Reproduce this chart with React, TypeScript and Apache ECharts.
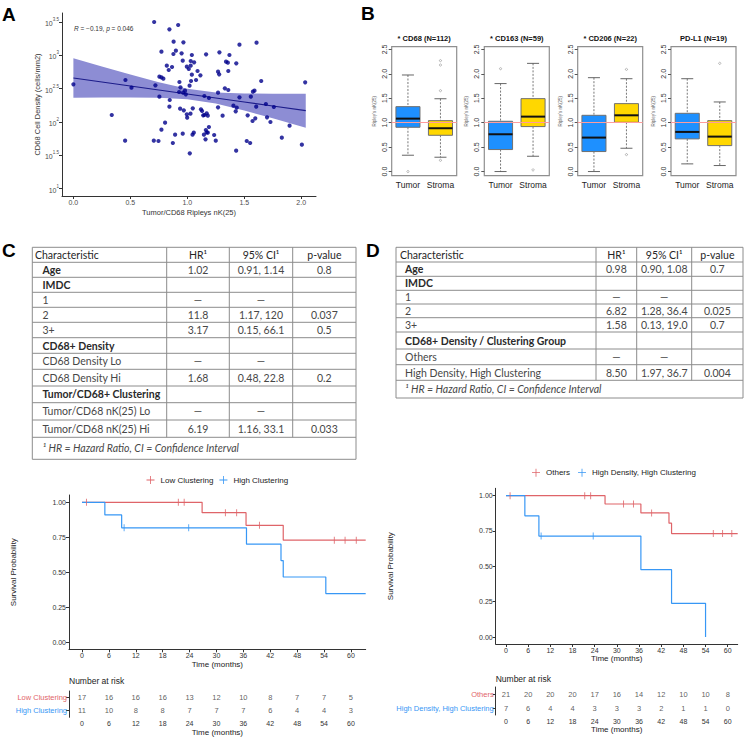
import React, { useEffect, useRef } from "react";
import * as echarts from "echarts";

// ---------- Panel A data ----------
const ripleyX = [0.0,0.457,0.51,0.337,0.454,0.709,0.92,0.843,0.88,0.966,
 0.773,0.90,0.878,0.95,1.04,0.96,1.03,1.06,0.82,0.866,
 0.837,1.03,1.013,0.996,1.09,1.115,1.04,0.755,0.773,0.79,
 1.077,1.033,0.931,0.72,0.94,0.98,0.928,0.963,0.987,1.02,
 0.755,0.846,0.843,0.937,0.969,1.048,1.028,0.996,0.999,0.805,
 0.773,0.893,0.96,0.706,0.747,0.873,1.022,1.046,1.057,1.12,
 1.13,1.14,1.15,1.17,1.18,1.146,1.163,1.17,1.18,1.19,
 1.16,1.236,1.25,1.165,1.15,1.19,1.27,1.27,1.31,1.282,
 1.27,1.28,1.33,1.36,1.34,1.356,1.37,1.36,1.43,1.458,
 1.608,1.458,1.405,1.425,1.434,1.53,1.558,1.576,1.59,1.573,
 1.597,1.605,1.429,1.522,1.552,1.649,1.69,1.70,1.76,1.73,
 1.83,1.898,2.006,2.035];
// log10 of CD68 cell density (cells/mm2)
const densityLog = [2.565,2.63,2.515,2.105,1.72,3.5,3.455,3.39,3.205,3.195,
 3.055,3.07,3.02,3.03,3.005,2.92,2.915,2.895,2.845,2.825,
 2.78,2.845,2.795,2.83,2.765,2.70,2.71,2.68,2.67,2.65,
 2.63,2.615,2.60,2.55,2.52,2.47,2.45,2.44,2.415,2.545,
 2.38,2.33,2.23,2.20,2.175,2.205,2.125,2.115,2.065,1.99,
 1.885,1.81,1.825,1.72,1.715,1.685,1.53,1.81,1.84,2.19,
 2.165,2.10,2.105,2.13,2.095,1.81,1.88,1.845,1.84,1.925,
 1.74,1.805,1.72,3.015,2.39,2.36,2.44,2.22,2.095,3.045,
 2.755,2.715,2.505,2.48,2.905,2.89,3.005,2.765,2.88,3.16,
 3.19,2.37,2.245,2.16,2.215,2.10,2.38,2.455,2.47,2.015,
 2.055,2.23,1.57,1.715,1.685,2.615,2.27,2.07,2.225,2.0,
 1.765,1.945,1.66,2.595];
const fitX = [0, 0.25, 0.5, 0.75, 1.0, 1.25, 1.5, 1.75, 2.04];
const fitY = [2.66, 2.60, 2.54, 2.48, 2.42, 2.36, 2.30, 2.24, 2.17];
const fitLower = [2.365, 2.368, 2.368, 2.363, 2.341, 2.276, 2.172, 2.056, 1.915];
const fitUpper = [2.955, 2.832, 2.712, 2.597, 2.499, 2.444, 2.428, 2.424, 2.425];
const aXTicks = [0, 0.5, 1, 1.5, 2];
const aYTicks = [1, 1.5, 2, 2.5, 3, 3.5];

// ---------- Panel B data ----------
const boxTitles = ["* CD68 (N=112)", "* CD163 (N=59)", "* CD206 (N=22)", "PD-L1 (N=19)"];
const boxGroups = ["Tumor", "Stroma"];
// [low whisker, Q1, median, Q3, high whisker]
const boxTumor = [[0.334,0.906,1.083,1.328,1.976],[0,0.45,0.763,1.029,1.80],[0,0.409,0.695,1.151,1.921],[0.157,0.668,0.811,1.192,1.90]];
const boxStroma = [[0.293,0.742,0.886,1.042,1.49],[0.313,0.92,1.124,1.492,2.214],[0.477,1.008,1.151,1.39,1.90],[0.123,0.531,0.715,1.042,1.424]];
const outTumor = [[0.0],[2.105],[],[]];
const outStroma = [[2.27,2.18,1.655,0.23],[0.034],[2.09,0.347],[2.214]];
const boxYTicks = [0, 0.5, 1, 1.5, 2, 2.5];

// ---------- Panel C / D tables ----------
const cChar = ["Age","IMDC","1","2","3+","CD68+ Density","CD68 Density Lo","CD68 Density Hi","Tumor/CD68+ Clustering","Tumor/CD68 nK(25) Lo","Tumor/CD68 nK(25) Hi"];
const cHR = ["1.02","","—","11.8","3.17","","—","1.68","","—","6.19"];
const cCI = ["0.91, 1.14","","—","1.17, 120","0.15, 66.1","","—","0.48, 22.8","","—","1.16, 33.1"];
const cP = ["0.8","","","0.037","0.5","","","0.2","","","0.033"];
const cBold = [true,true,false,false,false,true,false,false,true,false,false];
const dChar = ["Age","IMDC","1","2","3+","CD68+ Density / Clustering Group","Others","High Density, High Clustering"];
const dHR = ["0.98","","—","6.82","1.58","","—","8.50"];
const dCI = ["0.90, 1.08","","—","1.28, 36.4","0.13, 19.0","","—","1.97, 36.7"];
const dP = ["0.7","","","0.025","0.7","","","0.004"];
const dBold = [true,true,false,false,false,true,false,false];
const tableHeader = ["Characteristic","HR¹","95% CI¹","p-value"];
const footnote = "¹ HR = Hazard Ratio, CI = Confidence Interval";

// ---------- Survival data ----------
const kmTicks = [0,6,12,18,24,30,36,42,48,54,60];
const lowT = [0, 26.8, 36.6, 44.9, 63.3];
const lowS = [1, 0.926, 0.836, 0.73, 0.73];
const lowCens = [1.0, 21.5, 22.8, 32.0, 34.5, 39.6, 56.3, 58.7, 61.2];
const highT = [0, 5.1, 8.85, 36.7, 44.4, 44.9, 54.4, 63.3];
const highS = [1, 0.91, 0.818, 0.702, 0.585, 0.468, 0.35, 0.35];
const highCens = [9.4, 23.8];
const lowRisk = [17,16,16,16,13,12,10,8,7,7,5];
const highRisk = [11,10,8,8,7,7,7,6,4,4,3];

const othT = [0, 26.8, 36.5, 44.1, 44.8, 62.7];
const othS = [1, 0.941, 0.878, 0.805, 0.732, 0.732];
const othCens = [1.1, 21.3, 22.9, 31.8, 34.5, 39.4, 56.1, 58.6, 61.1];
const hdT = [0, 5.1, 8.9, 36.5, 44.8, 54.0];
const hdS = [1, 0.857, 0.714, 0.476, 0.238, 0];
const hdCens = [9.5, 23.6];
const othRisk = [21,20,20,20,17,16,14,12,10,10,8];
const hdRisk = [7,6,4,4,3,3,3,2,1,1,0];

const RED = "#df6469";
const BLUE = "#3797f5";
const FONT = "'Liberation Sans', Arial, sans-serif";
const TFONT = "Lato, 'Open Sans', sans-serif";
const PLUS = "path://M4.5,0H5.5V4.5H10V5.5H5.5V10H4.5V5.5H0V4.5H4.5Z";

function stepAt(T: number[], S: number[], t: number) {
  let v = S[0];
  for (let i = 0; i < T.length; i++) if (T[i] <= t) v = S[i];
  return v;
}

function txt(x: number, y: number, text: string, o: any = {}) {
  return {
    type: "text", x, y, silent: true,
    style: {
      text, fontSize: o.fontSize ?? 10.5, fontFamily: o.fontFamily ?? TFONT,
      fontWeight: o.fontWeight ?? "normal", fontStyle: o.fontStyle ?? "normal",
      fill: o.fill ?? "#3a3a3a", align: o.align ?? "left", textAlign: o.align ?? "left",
      verticalAlign: "middle", textVerticalAlign: "middle",
    },
  };
}
function ln(x1: number, y1: number, x2: number, y2: number, stroke = "#8c8c8c", w = 1) {
  return { type: "line", silent: true, shape: { x1, y1, x2, y2 }, style: { stroke, lineWidth: w } };
}

function table(lines: number[], cols: number[], chars: string[], hr: string[], ci: string[], p: string[], bold: boolean[], hx: number, rx: number) {
  const els: any[] = [];
  const L = cols[0], R = cols[cols.length - 1];
  const T = lines[0], B = lines[lines.length - 1];
  els.push({ type: "rect", silent: true, shape: { x: L, y: T, width: R - L, height: B - T }, style: { fill: "none", stroke: "#8c8c8c", lineWidth: 1 } });
  for (let i = 1; i < lines.length - 1; i++) els.push(ln(L, lines[i], R, lines[i]));
  const cb = lines[lines.length - 2];
  for (let j = 1; j < cols.length - 1; j++) els.push(ln(cols[j], T, cols[j], cb));
  const mid = (j: number) => (cols[j] + cols[j + 1]) / 2;
  const hy = (lines[0] + lines[1]) / 2;
  els.push(txt(hx, hy, tableHeader[0], { fill: "#262626" }));
  for (let j = 1; j < 4; j++) els.push(txt(mid(j), hy, tableHeader[j], { align: "center", fill: "#262626" }));
  chars.forEach((c, i) => {
    const y = (lines[i + 1] + lines[i + 2]) / 2;
    els.push(txt(rx, y, c, { fontWeight: bold[i] ? "bold" : "normal", fill: bold[i] ? "#2a2a2a" : "#474747" }));
    els.push(txt(mid(1), y, hr[i], { align: "center", fill: "#474747" }));
    els.push(txt(mid(2), y, ci[i], { align: "center", fill: "#474747" }));
    els.push(txt(mid(3), y, p[i], { align: "center", fill: "#474747" }));
  });
  const fy = (lines[lines.length - 2] + lines[lines.length - 1]) / 2;
  els.push(txt(rx, fy, footnote, { fontStyle: "italic", fill: "#474747" }));
  return els;
}

export default function App() {
  const ref = useRef<HTMLDivElement>(null);
  useEffect(() => {
    const chart = echarts.init(ref.current!, null, { renderer: "svg" });

    const grid: any[] = [];
    const xAxis: any[] = [];
    const yAxis: any[] = [];
    const series: any[] = [];
    const axisLineStyle = { onZero: false, lineStyle: { color: "#333", width: 1 } };

    // ---- A ----
    grid.push({ left: 62, top: 13, width: 254, height: 183 });
    xAxis.push({
      type: "value", gridIndex: 0, min: -0.1, max: 2.13,
      axisLine: axisLineStyle, axisTick: { length: 3, lineStyle: { color: "#333" }, customValues: aXTicks },
      axisLabel: { customValues: aXTicks, fontSize: 7, color: "#4d4d4d", fontFamily: FONT, margin: 3, formatter: (v: number) => v.toFixed(1) },
      splitLine: { show: false },
      name: "Tumor/CD68 Ripleys nK(25)", nameLocation: "middle", nameGap: 12,
      nameTextStyle: { fontSize: 7.5, color: "#333", fontFamily: FONT },
    });
    yAxis.push({
      type: "value", gridIndex: 0, min: 0.89, max: 3.635,
      axisLine: { show: true, ...axisLineStyle }, axisTick: { show: true, length: 3, lineStyle: { color: "#333" }, customValues: aYTicks },
      axisLabel: {
        customValues: aYTicks, margin: 3, fontFamily: FONT,
        formatter: (v: number) => `{b|10}{s|${Number.isInteger(v) ? v : v.toFixed(1)}}`,
        rich: { b: { fontSize: 7, color: "#4d4d4d", fontFamily: FONT, lineHeight: 10, verticalAlign: "bottom" }, s: { fontSize: 4.5, color: "#4d4d4d", fontFamily: FONT, verticalAlign: "top" } },
      },
      splitLine: { show: false },
      name: "CD68 Cell Density (cells/mm2)", nameLocation: "middle", nameGap: 18,
      nameTextStyle: { fontSize: 7.5, color: "#333", fontFamily: FONT },
    });
    series.push({
      type: "custom", xAxisIndex: 0, yAxisIndex: 0, silent: true,
      data: fitX.map((x, i) => [x, fitLower[i], fitUpper[i]]),
      encode: { x: 0, y: [1, 2] },
      renderItem: (params: any, api: any) => {
        if (params.dataIndex !== 0) return null;
        const up = fitX.map((x, i) => api.coord([x, fitUpper[i]]));
        const lo = fitX.map((x, i) => api.coord([x, fitLower[i]])).reverse();
        return { type: "polygon", shape: { points: [...up, ...lo] }, style: { fill: "#8d8dd4" } };
      },
      z: 1,
    });
    series.push({
      type: "line", xAxisIndex: 0, yAxisIndex: 0, symbol: "none", silent: true,
      data: fitX.map((x, i) => [x, fitY[i]]), lineStyle: { color: "#1c1c8a", width: 1.2 }, z: 2,
    });
    series.push({
      type: "scatter", xAxisIndex: 0, yAxisIndex: 0, symbolSize: 4.2,
      data: ripleyX.map((x, i) => [x, densityLog[i]]), itemStyle: { color: "#00008b" }, z: 3,
    });

    // ---- B ----
    const bLefts = [391.7, 484.3, 577.7, 671];
    bLefts.forEach((l, k) => {
      const gi = 1 + k;
      grid.push({ left: l, top: 46.7, width: 65, height: 129, show: true, borderColor: "#8f8f8f", borderWidth: 1.2, backgroundColor: "transparent" });
      xAxis.push({
        type: "category", gridIndex: gi, data: boxGroups,
        axisLine: { show: false, onZero: false }, axisTick: { show: false },
        axisLabel: { interval: 0, fontSize: 8.5, color: "#222", fontFamily: FONT, margin: 5 },
      });
      yAxis.push({
        type: "value", gridIndex: gi, min: -0.085, max: 2.555,
        axisLine: { show: false, onZero: false },
        axisTick: { show: true, length: 3, lineStyle: { color: "#555" }, customValues: boxYTicks },
        axisLabel: { customValues: boxYTicks, rotate: 90, fontSize: 7, color: "#333", fontFamily: FONT, margin: 4, formatter: (v: number) => v.toFixed(1) },
        splitLine: { show: false },
        name: "Ripley's nK(25)", nameLocation: "middle", nameGap: 15,
        nameTextStyle: { fontSize: 4.5, color: "#666", fontFamily: FONT },
      });
      series.push({
        type: "custom", xAxisIndex: gi, yAxisIndex: gi, silent: true,
        data: [[0, ...boxTumor[k]], [1, ...boxStroma[k]]],
        encode: { x: 0, y: [1, 2, 3, 4, 5] },
        renderItem: (params: any, api: any) => {
          const c = api.value(0);
          const pt = (v: number) => api.coord([c, v]);
          const lo = pt(api.value(1)), q1 = pt(api.value(2)), md = pt(api.value(3)), q3 = pt(api.value(4)), hi = pt(api.value(5));
          const x = lo[0];
          const bw = api.size([1, 0])[0] * 0.74;
          const hw = bw / 2, cw = bw / 4;
          const fill = c === 0 ? "#1E90FF" : "#FFD700";
          const ws = { stroke: "#555", lineWidth: 0.8, lineDash: [2, 1.5] };
          return {
            type: "group",
            children: [
              { type: "line", shape: { x1: x, y1: hi[1], x2: x, y2: q3[1] }, style: ws },
              { type: "line", shape: { x1: x, y1: q1[1], x2: x, y2: lo[1] }, style: ws },
              { type: "line", shape: { x1: x - cw, y1: hi[1], x2: x + cw, y2: hi[1] }, style: { stroke: "#555", lineWidth: 0.9 } },
              { type: "line", shape: { x1: x - cw, y1: lo[1], x2: x + cw, y2: lo[1] }, style: { stroke: "#555", lineWidth: 0.9 } },
              { type: "rect", shape: { x: x - hw, y: q3[1], width: bw, height: q1[1] - q3[1] }, style: { fill, stroke: "#707070", lineWidth: 1 } },
              { type: "line", shape: { x1: x - hw, y1: md[1], x2: x + hw, y2: md[1] }, style: { stroke: "#111", lineWidth: 2 } },
            ],
          };
        },
        z: 2,
      });
      series.push({
        type: "scatter", xAxisIndex: gi, yAxisIndex: gi, symbolSize: 2.2, silent: true,
        data: [...outTumor[k].map((v) => [0, v]), ...outStroma[k].map((v) => [1, v])],
        itemStyle: { color: "#fff", borderColor: "#777", borderWidth: 0.6 },
        markLine: { silent: true, symbol: ["none", "none"], label: { show: false }, lineStyle: { color: "#ff9c9c", width: 1, type: "solid" }, data: [{ yAxis: 1 }], z: 5 },
        z: 3,
      });
    });

    // ---- Survival ----
    const kmAxisX = (gi: number, min: number, max: number, gap: number) => ({
      type: "value", gridIndex: gi, min, max,
      axisLine: axisLineStyle, axisTick: { length: 3, lineStyle: { color: "#333" }, customValues: kmTicks },
      axisLabel: { customValues: kmTicks, fontSize: 7, color: "#333", fontFamily: FONT, margin: 3 },
      splitLine: { show: false },
      name: "Time (months)", nameLocation: "middle", nameGap: gap,
      nameTextStyle: { fontSize: 8, color: "#222", fontFamily: FONT },
    });
    const kmAxisY = (gi: number, min: number, max: number, gap: number) => ({
      type: "value", gridIndex: gi, min, max,
      axisLine: { show: true, ...axisLineStyle }, axisTick: { show: true, length: 3, lineStyle: { color: "#333" }, customValues: [0, 0.25, 0.5, 0.75, 1] },
      axisLabel: { customValues: [0, 0.25, 0.5, 0.75, 1], fontSize: 7, color: "#333", fontFamily: FONT, margin: 3, formatter: (v: number) => v.toFixed(2) },
      splitLine: { show: false },
      name: "Survival Probability", nameLocation: "middle", nameGap: gap,
      nameTextStyle: { fontSize: 8, color: "#222", fontFamily: FONT },
    });
    const riskY = (gi: number, cats: string[], colors: string[]) => ({
      type: "category", gridIndex: gi, data: cats,
      axisLine: { show: true, ...axisLineStyle }, axisTick: { show: true, alignWithLabel: true, length: 3, lineStyle: { color: "#333" } },
      axisLabel: { interval: 0, fontSize: 7.5, fontFamily: FONT, margin: 2, color: (v: string, i: number) => colors[i] },
    });
    const kmSeries = (gi: number, name: string, T: number[], S: number[], cens: number[], color: string) => {
      series.push({
        name, type: "line", step: "end", xAxisIndex: gi, yAxisIndex: gi, symbol: "none",
        data: T.map((t, i) => [t, S[i]]), lineStyle: { color, width: 1.2 }, itemStyle: { color }, z: 2,
      });
      series.push({
        name: name + " censor", type: "scatter", xAxisIndex: gi, yAxisIndex: gi, symbol: "rect", symbolSize: [1, 7],
        data: cens.map((t) => [t, stepAt(T, S, t)]), itemStyle: { color }, z: 3,
      });
    };
    const riskSeries = (gi: number, cat: string, counts: number[]) => {
      series.push({
        type: "scatter", xAxisIndex: gi, yAxisIndex: gi, symbolSize: 0, silent: true,
        data: counts.map((n, i) => [kmTicks[i], cat, n]),
        label: { show: true, position: "inside", formatter: (p: any) => String(p.value[2]), fontSize: 7.5, color: "#333", fontFamily: FONT },
      });
    };

    grid.push({ left: 69, top: 495, width: 296.7, height: 154.3 });
    xAxis.push(kmAxisX(5, -2.9, 63.3, 10));
    yAxis.push(kmAxisY(5, -0.047, 1.052, 52));
    kmSeries(5, "Low Clustering", lowT, lowS, lowCens, RED);
    kmSeries(5, "High Clustering", highT, highS, highCens, BLUE);
    grid.push({ left: 69, top: 691, width: 296.7, height: 26.3 });
    xAxis.push(kmAxisX(6, -2.9, 63.3, 9));
    yAxis.push(riskY(6, ["High Clustering", "Low Clustering"], [BLUE, RED]));
    riskSeries(6, "Low Clustering", lowRisk);
    riskSeries(6, "High Clustering", highRisk);

    grid.push({ left: 495.7, top: 488.3, width: 242, height: 155.7 });
    xAxis.push(kmAxisX(7, -2.79, 62.7, 10));
    yAxis.push(kmAxisY(7, -0.0495, 1.052, 101));
    kmSeries(7, "Others", othT, othS, othCens, RED);
    kmSeries(7, "High Density, High Clustering", hdT, hdS, hdCens, BLUE);
    grid.push({ left: 495.7, top: 687, width: 242, height: 28 });
    xAxis.push(kmAxisX(8, -2.79, 62.7, 8));
    yAxis.push(riskY(8, ["High Density, High Clustering", "Others"], [BLUE, RED]));
    riskSeries(8, "Others", othRisk);
    riskSeries(8, "High Density, High Clustering", hdRisk);

    const legendBase = {
      orient: "horizontal", itemWidth: 8, itemHeight: 8, icon: PLUS, selectedMode: false, padding: 0,
      textStyle: { fontSize: 8, color: "#222", fontFamily: FONT, padding: [0, 0, 0, 1] },
    };
    const legend = [
      { ...legendBase, left: 146.5, top: 476, itemGap: 6, data: ["Low Clustering", "High Clustering"] },
      { ...legendBase, left: 532, top: 468.7, itemGap: 8, data: ["Others", "High Density, High Clustering"] },
    ];

    // ---- graphic: labels, titles, tables ----
    const g: any[] = [];
    const panel = (x: number, y: number, t: string) => txt(x, y, t, { fontSize: 19, fontWeight: "bold", fontFamily: FONT, fill: "#000" });
    g.push(panel(2, 14, "A"), panel(361, 13, "B"), panel(2, 250, "C"), panel(366, 250, "D"));
    g.push({
      type: "text", x: 74, y: 28.5, silent: true,
      style: {
        text: "{i|R} = −0.19, {i|p} = 0.046", fontSize: 6.5, fontFamily: FONT, fill: "#333",
        verticalAlign: "middle", textVerticalAlign: "middle",
        rich: { i: { fontStyle: "italic", fontSize: 6.5, fontFamily: FONT, fill: "#333" } },
      },
    });
    bLefts.forEach((l, k) => g.push(txt(l + 32.5, 38.5, boxTitles[k], { fontSize: 7.5, fontWeight: "bold", fontFamily: FONT, fill: "#111", align: "center" })));
    g.push(txt(69, 681, "Number at risk", { fontSize: 8.5, fontFamily: FONT, fill: "#222" }));
    g.push(txt(495.7, 679, "Number at risk", { fontSize: 8.5, fontFamily: FONT, fill: "#222" }));
    const cLines = [247.3, 262.3, 277.3, 292.3, 307.3, 322.3, 337.7, 353.3, 369.3, 386, 402.7, 420, 437.3, 459.3];
    const cCols = [32.3, 166.7, 229.3, 292.7, 356];
    g.push(...table(cLines, cCols, cChar, cHR, cCI, cP, cBold, 35, 42.5));
    const dLines = [247.3, 262, 276.3, 290.3, 304, 317.7, 332, 349, 364.7, 380.3, 398];
    const dCols = [396, 596, 636.7, 691.7, 743];
    g.push(...table(dLines, dCols, dChar, dHR, dCI, dP, dBold, 400, 405));

    chart.setOption({
      animation: false,
      backgroundColor: "#fff",
      grid, xAxis, yAxis, series, legend,
      graphic: { elements: g },
    });
    return () => chart.dispose();
  }, []);
  return <div ref={ref} style={{ position: "absolute", left: 0, top: 0, width: 747, height: 741 }} />;
}
